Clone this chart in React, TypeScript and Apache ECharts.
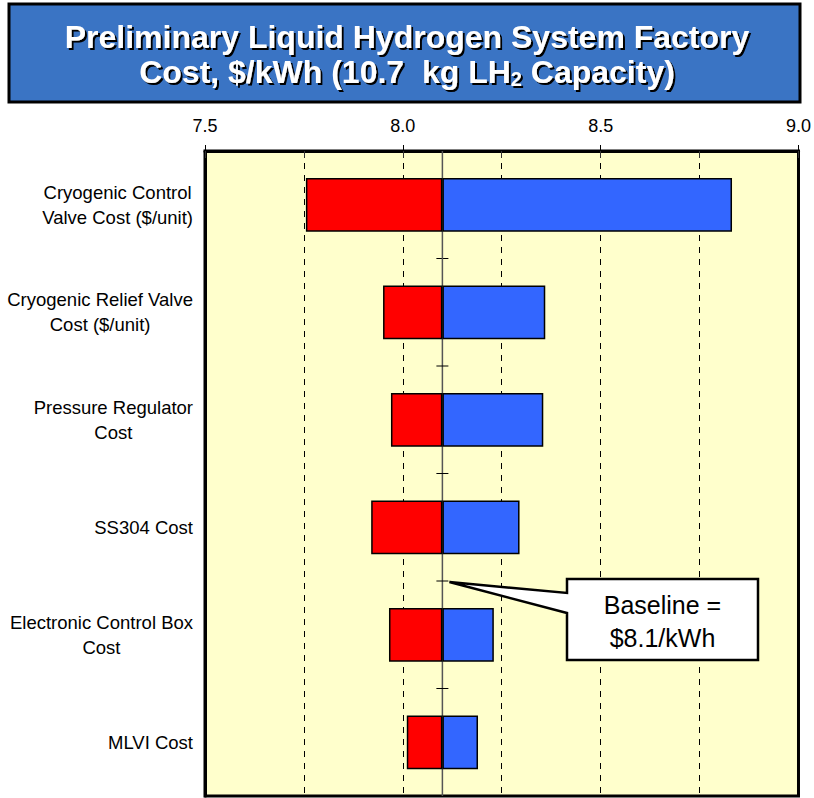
import React, { useEffect, useRef } from 'react';
import * as echarts from 'echarts';

const BASELINE = 8.1;
const X_MIN = 7.5;
const X_MAX = 9.0;
const X_MAJOR = 0.5;
const X_MINOR = 0.25;

const categories = [
  'Cryogenic Control\nValve Cost ($/unit)',
  'Cryogenic Relief Valve\nCost ($/unit)',
  'Pressure Regulator\nCost',
  'SS304 Cost',
  'Electronic Control Box\nCost',
  'MLVI Cost',
];
const lowValues = [7.755, 7.95, 7.97, 7.92, 7.965, 8.01];
const highValues = [8.832, 8.36, 8.355, 8.295, 8.23, 8.19];

const titleLine1 = 'Preliminary Liquid Hydrogen System Factory';
const titleLine2a = 'Cost, $/kWh (10.7  kg LH';
const titleSub = '2';
const titleLine2b = ' Capacity)';
const calloutLines = ['Baseline =', '$8.1/kWh'];

const FONT = '"Liberation Sans", Arial, sans-serif';

export default function App() {
  const ref = useRef<HTMLDivElement>(null);
  useEffect(() => {
    if (!ref.current) return;
    const chart = echarts.init(ref.current, null, { renderer: 'svg' });

    const titleText = `{t|${titleLine1}}\n{t|${titleLine2a}}{s|${titleSub}}{t|${titleLine2b}}`;
    const shadow = { textShadowColor: '#000', textShadowOffsetX: 2, textShadowOffsetY: 2, textShadowBlur: 0.5 };
    const titleRich = {
      t: { fontSize: 32, fontWeight: 'bold', color: '#fff', fontFamily: FONT, lineHeight: 35, ...shadow },
      s: { fontSize: 20, fontWeight: 'bold', color: '#fff', fontFamily: FONT, verticalAlign: 'bottom', lineHeight: 26, ...shadow },
    };

    const option: any = {
      animation: false,
      backgroundColor: '#ffffff',
      title: {
        text: titleText, left: 'center', top: 19, padding: 0, z: 7,
        textStyle: { rich: titleRich },
      },
      grid: {
        left: 205, right: 12, top: 151, bottom: 2,
        show: true, backgroundColor: '#FFFFCC', borderColor: '#000', borderWidth: 3,
      },
      xAxis: [
        {
          type: 'value', position: 'top', min: X_MIN, max: X_MAX, interval: X_MAJOR,
          axisLine: { show: true, lineStyle: { color: '#000', width: 3 } },
          axisTick: { show: true, inside: false, length: 6, lineStyle: { color: '#000', width: 1 } },
          axisLabel: {
            color: '#000', fontSize: 18, fontFamily: FONT, margin: 16,
            formatter: (v: number) => v.toFixed(1),
          },
          splitLine: { show: false },
        },
        {
          type: 'value', position: 'top', min: X_MIN, max: X_MAX, interval: X_MINOR,
          axisLine: { show: false },
          axisTick: { show: true, inside: true, length: 7, lineStyle: { color: '#333', width: 1 } },
          axisLabel: { show: false },
          splitLine: { show: true, lineStyle: { color: '#000', width: 1, type: [6, 6] } },
        },
      ],
      yAxis: {
        type: 'category', inverse: true, data: categories,
        axisLine: { show: true, lineStyle: { color: '#000', width: 3 } },
        axisTick: { show: false },
        splitLine: { show: false },
        axisLabel: {
          margin: 12, color: '#000', fontSize: 18.5, fontFamily: FONT, lineHeight: 25,
          formatter: (v: string) => v.split('\n').map((l) => `{c|${l}}`).join('\n'),
          rich: { c: { align: 'center', fontSize: 18.5, fontFamily: FONT, color: '#000', lineHeight: 25 } },
        },
      },
      series: [
        {
          type: 'custom', z: 1, silent: true, xAxisIndex: 0,
          data: categories.slice(0, -1).map((_, i) => [BASELINE, i]),
          renderItem: (params: any, api: any) => {
            const i = api.value(1);
            const a = api.coord([BASELINE, i]);
            const b = api.coord([BASELINE, i + 1]);
            const y = (a[1] + b[1]) / 2;
            const x = a[0];
            const cs = params.coordSys;
            const children: any[] = [
              { type: 'line', shape: { x1: x - 6, y1: y, x2: x + 6, y2: y }, style: { stroke: '#000', lineWidth: 1 } },
            ];
            if (i === 0) {
              children.push({
                type: 'line', shape: { x1: x, y1: cs.y, x2: x, y2: cs.y + cs.height },
                style: { stroke: '#555', lineWidth: 1.5 },
              });
            }
            return { type: 'group', children };
          },
        },
        {
          type: 'bar', stack: 'tornado', xAxisIndex: 0, barWidth: '50%', silent: true,
          itemStyle: { color: 'rgba(0,0,0,0)', borderWidth: 0 },
          data: lowValues,
        },
        {
          type: 'bar', stack: 'tornado', xAxisIndex: 0, barWidth: '50%', z: 3,
          itemStyle: { color: '#FF0000', borderColor: '#000', borderWidth: 1.5 },
          data: lowValues.map((v) => BASELINE - v),
        },
        {
          type: 'bar', stack: 'tornado', xAxisIndex: 0, barWidth: '50%', z: 3,
          itemStyle: { color: '#3366FF', borderColor: '#000', borderWidth: 1.5 },
          data: highValues.map((v) => v - BASELINE),
        },
      ],
    };
    chart.setOption(option);

    // callout tip: baseline between SS304 and Electronic Control Box
    const pA = chart.convertToPixel({ gridIndex: 0 }, [BASELINE, 3]) as number[];
    const pB = chart.convertToPixel({ gridIndex: 0 }, [BASELINE, 4]) as number[];
    const tipX = pA[0] + 7;
    const tipY = (pA[1] + pB[1]) / 2 + 1;
    const bx = 567, by = 579, bw = 191, bh = 81;

    chart.setOption({
      graphic: [
        {
          type: 'rect', z: 0, zlevel: 0, silent: true,
          shape: { x: 9, y: 4, width: 791, height: 98 },
          style: { fill: '#3A74C4', stroke: '#000', lineWidth: 3 },
        },
        {
          type: 'polygon', z: 100, silent: true,
          shape: {
            points: [
              [bx, by], [bx + bw, by], [bx + bw, by + bh], [bx, by + bh],
              [bx, by + 34], [tipX, tipY], [bx, by + 14],
            ],
          },
          style: { fill: '#fff', stroke: '#000', lineWidth: 2.5, lineJoin: 'miter' },
        },
        {
          type: 'text', z: 101, silent: true,
          style: {
            x: bx + bw / 2, y: by + 26, text: calloutLines[0], fill: '#000',
            font: `25px ${FONT}`, align: 'center', verticalAlign: 'middle',
          },
        },
        {
          type: 'text', z: 101, silent: true,
          style: {
            x: bx + bw / 2, y: by + 59, text: calloutLines[1], fill: '#000',
            font: `25px ${FONT}`, align: 'center', verticalAlign: 'middle',
          },
        },
      ],
    });

    return () => chart.dispose();
  }, []);
  return <div ref={ref} style={{ position: 'absolute', left: 0, top: 0, width: 814, height: 798 }} />;
}
